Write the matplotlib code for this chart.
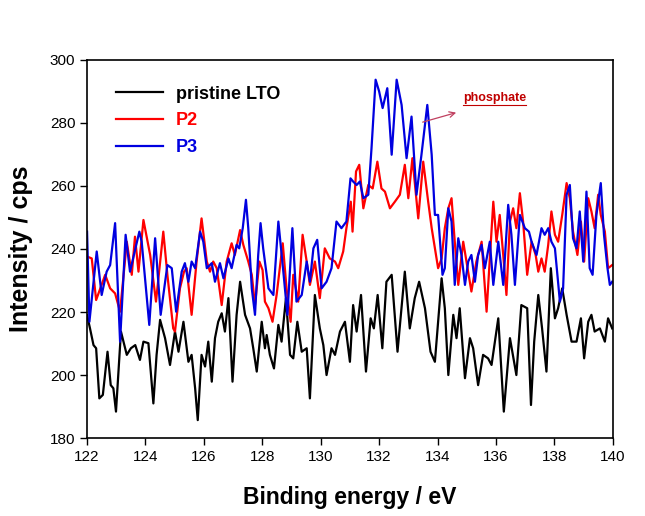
import matplotlib
matplotlib.use('Agg')
import matplotlib.pyplot as plt

plt.rcParams['font.family'] = ['Liberation Sans', 'DejaVu Sans']

# --- data (binding energy in eV, intensity in cps) ---
e_lto = [122.0, 122.10, 122.22, 122.31, 122.42, 122.54, 122.70, 122.81, 122.90, 122.99,
         123.16, 123.36, 123.50, 123.65, 123.81, 123.93, 124.10, 124.27, 124.38, 124.50,
         124.67, 124.84, 125.01, 125.13, 125.30, 125.47, 125.58, 125.70, 125.79, 125.92,
         126.04, 126.15, 126.27, 126.38, 126.49, 126.61, 126.72, 126.84, 126.98, 127.12,
         127.24, 127.41, 127.58, 127.69, 127.81, 127.98, 128.09, 128.15, 128.26, 128.40,
         128.55, 128.66, 128.81, 128.95, 129.06, 129.20, 129.35, 129.52, 129.63, 129.80,
         129.97, 130.09, 130.20, 130.37, 130.49, 130.66, 130.83, 131.00, 131.11, 131.23,
         131.38, 131.55, 131.71, 131.82, 131.95, 132.11, 132.25, 132.43, 132.63, 132.88,
         133.05, 133.22, 133.37, 133.57, 133.76, 133.91, 134.14, 134.25, 134.37, 134.54,
         134.65, 134.76, 134.94, 135.11, 135.22, 135.39, 135.56, 135.73, 135.85, 136.08,
         136.27, 136.48, 136.70, 136.87, 137.07, 137.20, 137.31, 137.45, 137.58, 137.73,
         137.88, 138.02, 138.13, 138.27, 138.42, 138.59, 138.76, 138.91, 139.02, 139.16,
         139.27, 139.38, 139.56, 139.73, 139.84, 139.98]
i_lto = [219.0, 214.8, 209.5, 208.5, 192.6, 193.7, 207.4, 196.8, 195.8, 188.4,
         213.8, 206.4, 208.5, 209.5, 204.8, 210.6, 210.1, 191.0, 206.4, 217.5,
         211.7, 203.2, 213.8, 207.4, 216.9, 204.2, 206.4, 195.8, 185.7, 206.4,
         202.7, 210.6, 197.9, 211.7, 216.9, 219.6, 213.8, 224.4, 197.9, 219.1,
         229.6, 219.1, 214.8, 208.5, 201.1, 216.9, 208.5, 212.7, 206.4, 202.1,
         215.9, 210.6, 224.4, 206.4, 205.3, 216.9, 207.4, 208.5, 192.6, 225.4,
         214.8, 209.5, 200.0, 208.5, 206.4, 213.8, 216.9, 204.2, 222.2, 213.8,
         225.4, 201.1, 218.0, 214.8, 225.4, 208.5, 229.6, 231.8, 207.4, 232.8,
         214.8, 224.4, 229.6, 221.2, 207.4, 204.2, 230.7, 221.2, 200.0, 219.1,
         211.7, 221.2, 199.0, 211.7, 208.5, 196.8, 206.4, 205.3, 203.2, 218.0,
         188.4, 211.7, 200.0, 222.2, 221.2, 190.5, 210.6, 225.4, 214.8, 201.1,
         233.9, 218.0, 221.2, 227.5, 219.1, 210.6, 210.6, 218.0, 205.3, 216.9,
         219.1, 213.8, 214.8, 210.6, 218.0, 214.8]

e_p2 = [122.0, 122.16, 122.31, 122.62, 122.79, 122.96, 123.13, 123.36, 123.53, 123.64,
        123.76, 123.93, 124.16, 124.36, 124.61, 124.75, 124.95, 125.01, 125.18, 125.32,
        125.41, 125.58, 125.75, 125.92, 126.10, 126.21, 126.32, 126.44, 126.61, 126.78,
        126.95, 127.06, 127.24, 127.35, 127.52, 127.64, 127.75, 127.90, 128.01, 128.09,
        128.21, 128.35, 128.49, 128.70, 128.83, 128.97, 129.06, 129.23, 129.38, 129.52,
        129.63, 129.80, 129.97, 130.14, 130.31, 130.49, 130.60, 130.77, 130.88, 131.03,
        131.09, 131.21, 131.32, 131.46, 131.63, 131.78, 131.94, 132.08, 132.20, 132.37,
        132.54, 132.71, 132.88, 133.00, 133.14, 133.34, 133.51, 133.68, 133.80, 133.91,
        134.02, 134.14, 134.25, 134.37, 134.48, 134.59, 134.71, 134.88, 135.05, 135.16,
        135.33, 135.51, 135.68, 135.79, 135.91, 136.02, 136.13, 136.25, 136.36, 136.48,
        136.59, 136.70, 136.82, 136.93, 137.07, 137.22, 137.36, 137.45, 137.56, 137.67,
        137.79, 137.90, 138.02, 138.13, 138.27, 138.42, 138.53, 138.64, 138.79, 138.91,
        139.02, 139.16, 139.27, 139.38, 139.50, 139.59, 139.73, 139.84, 139.98]
i_p2 = [237.6, 237.0, 223.8, 231.8, 227.5, 225.9, 220.1, 242.3, 231.8, 243.9,
        232.8, 249.2, 238.1, 223.3, 245.5, 231.8, 214.8, 213.8, 227.5, 232.8,
        233.9, 219.1, 236.0, 249.7, 236.0, 232.8, 236.0, 233.9, 222.2, 236.0,
        241.8, 238.1, 246.0, 241.3, 236.0, 231.8, 222.2, 236.0, 233.3, 223.3,
        221.2, 216.9, 225.4, 241.8, 227.5, 216.9, 231.8, 223.3, 244.5, 236.0,
        228.6, 236.0, 224.4, 240.2, 237.0, 236.0, 233.9, 239.2, 246.6, 255.0,
        245.5, 264.6, 266.7, 252.9, 260.3, 259.2, 267.7, 259.2, 258.2, 252.9,
        255.0, 257.2, 266.7, 256.1, 268.8, 249.7, 267.7, 255.0, 246.6, 240.2,
        233.9, 237.0, 246.6, 252.9, 256.1, 242.3, 228.6, 242.3, 232.8, 226.5,
        236.0, 242.3, 220.1, 237.0, 255.0, 242.3, 250.8, 238.1, 225.4, 248.7,
        252.9, 246.6, 257.7, 248.7, 231.8, 242.3, 238.1, 232.8, 237.0, 232.8,
        241.3, 251.9, 244.5, 242.3, 250.8, 260.9, 256.1, 245.5, 238.1, 248.7,
        236.0, 256.1, 251.9, 246.6, 257.2, 250.8, 245.5, 233.9, 234.9]

e_p3 = [122.0, 122.08, 122.33, 122.50, 122.67, 122.79, 122.96, 123.13, 123.32, 123.47,
        123.79, 123.87, 124.13, 124.33, 124.52, 124.75, 124.90, 125.05, 125.24, 125.35,
        125.47, 125.58, 125.70, 125.87, 125.98, 126.10, 126.27, 126.38, 126.55, 126.67,
        126.84, 126.95, 127.12, 127.21, 127.33, 127.44, 127.52, 127.64, 127.75, 127.86,
        127.94, 128.03, 128.21, 128.38, 128.55, 128.72, 128.86, 129.03, 129.17, 129.35,
        129.52, 129.63, 129.75, 129.88, 130.03, 130.20, 130.37, 130.54, 130.71, 130.88,
        131.02, 131.11, 131.23, 131.34, 131.46, 131.63, 131.74, 131.88, 132.00, 132.12,
        132.28, 132.43, 132.60, 132.77, 132.94, 133.11, 133.28, 133.45, 133.65, 133.80,
        133.91, 134.02, 134.17, 134.25, 134.37, 134.48, 134.59, 134.71, 134.82, 134.94,
        135.05, 135.16, 135.28, 135.39, 135.51, 135.62, 135.79, 135.91, 136.08, 136.25,
        136.42, 136.53, 136.65, 136.82, 136.99, 137.13, 137.22, 137.39, 137.56, 137.67,
        137.79, 137.90, 138.02, 138.19, 138.30, 138.42, 138.53, 138.64, 138.76, 138.87,
        138.99, 139.10, 139.21, 139.31, 139.44, 139.59, 139.70, 139.82, 139.90, 139.98]
i_p3 = [245.5, 216.9, 239.2, 225.4, 232.8, 234.9, 248.2, 210.6, 244.5, 232.8,
        245.5, 242.3, 215.9, 243.4, 219.1, 234.9, 233.9, 220.1, 232.8, 235.5,
        229.6, 236.0, 233.9, 245.5, 242.3, 233.9, 235.5, 229.6, 235.5, 230.7,
        237.0, 233.9, 241.3, 240.2, 246.6, 255.6, 246.6, 227.5, 219.1, 238.1,
        248.2, 240.2, 227.5, 225.4, 248.7, 232.8, 219.1, 246.6, 223.3, 225.4,
        236.0, 229.6, 240.2, 242.9, 227.5, 229.6, 233.9, 248.7, 246.6, 248.7,
        262.4, 261.4, 260.3, 261.4, 256.1, 257.2, 272.0, 293.7, 290.0, 284.7,
        291.0, 269.9, 293.7, 285.7, 268.8, 282.0, 257.2, 269.9, 285.7, 269.9,
        250.8, 250.8, 231.8, 233.9, 252.9, 248.7, 228.6, 243.4, 238.1, 228.6,
        236.0, 238.1, 229.6, 238.1, 241.3, 233.9, 242.3, 228.6, 242.3, 228.6,
        254.0, 244.5, 228.6, 250.8, 246.6, 245.5, 242.3, 238.1, 246.6, 244.5,
        246.6, 242.3, 240.2, 223.3, 227.5, 257.2, 260.3, 243.4, 240.2, 251.9,
        236.0, 258.2, 233.9, 231.8, 250.8, 260.9, 244.5, 233.9, 228.6, 229.6]

labels = ['pristine LTO', 'P2', 'P3']
colors = ['black', '#ff0000', '#0000e0']

fig = plt.figure(figsize=(6.45, 5.16), dpi=100)
ax = fig.add_axes([0.135, 0.151, 0.815, 0.733])

ax.plot(e_lto, i_lto, color=colors[0], lw=1.6, label=labels[0])
ax.plot(e_p2, i_p2, color=colors[1], lw=1.6, label=labels[1])
ax.plot(e_p3, i_p3, color=colors[2], lw=1.6, label=labels[2])

ax.set_xlim(122, 140)
ax.set_ylim(180, 300)
ax.set_xticks(range(122, 141, 2))
ax.set_yticks(range(180, 301, 20))
ax.tick_params(direction='out', length=5, width=1, labelsize=11, top=False, right=False)
for s in ax.spines.values():
    s.set_linewidth(1.2)

ax.set_xlabel('Binding energy / eV', fontsize=16.5, fontweight='bold', labelpad=16)
ax.set_ylabel('Intensity / cps', fontsize=18, fontweight='bold', labelpad=12)

leg = ax.legend(loc='upper left', bbox_to_anchor=(0.025, 0.975), frameon=False,
                handlelength=2.6, handletextpad=0.7, labelspacing=0.55,
                prop={'size': 13, 'weight': 'bold'})
for txt, c in zip(leg.get_texts(), colors):
    txt.set_color(c)

# phosphate annotation with underlined label
ax.annotate('', xy=(134.73, 283.5), xytext=(133.4, 280.0),
            arrowprops=dict(arrowstyle='->', color='#c04060', lw=0.9))
t = ax.text(134.87, 288.0, 'phosphate', color='#c00000', fontsize=9,
            fontweight='bold', va='center', ha='left')
fig.canvas.draw()
bb = t.get_window_extent().transformed(ax.transData.inverted())
ax.plot([bb.x0, bb.x1], [bb.y0 - 0.3, bb.y0 - 0.3], color='#c00000', lw=0.8)

fig.savefig('out.png', dpi=100)
